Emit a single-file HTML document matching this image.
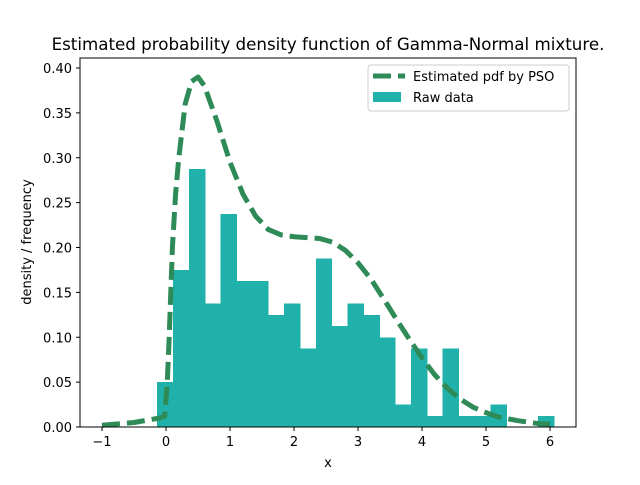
<!DOCTYPE html>
<html><head><meta charset="utf-8"><style>
body{margin:0;background:#fff;}
svg text{font-family:"DejaVu Sans","Liberation Sans",sans-serif;fill:#000;}
</style></head><body>
<svg id="chart" width="640" height="480" xmlns="http://www.w3.org/2000/svg">
<text x="328" y="50" font-size="16.7" text-anchor="middle">Estimated probability density function of Gamma-Normal mixture.</text>
<g id="bars" shape-rendering="crispEdges"></g>
<g id="curve"></g>
<rect x="80" y="58" width="496" height="369" fill="none" stroke="#000" stroke-width="1"/>
<g id="xticks"></g><g id="yticks"></g>
<text x="328" y="467" font-size="13" text-anchor="middle">x</text>
<text transform="translate(31,242) rotate(-90)" font-size="13" text-anchor="middle">density / frequency</text>
<g>
<rect x="368" y="65" width="201" height="46" rx="3" fill="#fff" fill-opacity="0.8" stroke="#ccc"/>
<line x1="373" y1="76" x2="405" y2="76" stroke="#2e8b57" stroke-width="5" stroke-dasharray="18,7"/>
<text x="413" y="81" font-size="13">Estimated pdf by PSO</text>
<rect x="373" y="92" width="28" height="10" fill="#20b2aa"/>
<text x="413" y="102" font-size="13">Raw data</text>
</g>
</svg>
<script>
const binStart = -0.14;
const binWidth = 0.248;
const binHeights = [0.05,0.175,0.2875,0.1375,0.2375,0.1625,0.1625,0.125,0.1375,0.0875,0.1875,0.1125,0.1375,0.125,0.1,0.025,0.0875,0.0125,0.0875,0.0125,0.0125,0.025,0,0,0.0125];
const pdfX = [-1,-0.5,-0.1,-0.02,0.02,0.05,0.1,0.15,0.2,0.3,0.4,0.5,0.6,0.8,1.0,1.2,1.4,1.6,1.8,2.0,2.2,2.4,2.6,2.8,3.0,3.2,3.4,3.6,3.8,4.0,4.2,4.4,4.6,4.8,5.0,5.2,5.5,5.8,6.0];
const pdfY = [0.002,0.005,0.01,0.012,0.05,0.1,0.2,0.26,0.3,0.36,0.385,0.39,0.38,0.34,0.295,0.26,0.235,0.22,0.214,0.212,0.211,0.21,0.206,0.197,0.183,0.165,0.143,0.12,0.098,0.077,0.058,0.043,0.031,0.022,0.016,0.011,0.007,0.004,0.003];
const xTicks = [-1,0,1,2,3,4,5,6];
const yTicks = [0,0.05,0.1,0.15,0.2,0.25,0.3,0.35,0.4];
const NS="http://www.w3.org/2000/svg";
const sx = v => 166 + v*64;
const sy = v => 427 - v*897.5;
const bars=document.getElementById('bars');
binHeights.forEach((h,i)=>{
  if(h<=0) return;
  const r=document.createElementNS(NS,'rect');
  const x0=sx(binStart+i*binWidth), x1=sx(binStart+(i+1)*binWidth);
  r.setAttribute('x',x0);r.setAttribute('width',x1-x0+0.6);
  r.setAttribute('y',sy(h));r.setAttribute('height',sy(0)-sy(h));
  r.setAttribute('fill','#20b2aa');
  
  
  bars.appendChild(r);
});
const p=document.createElementNS(NS,'path');
p.setAttribute('d',pdfX.map((x,i)=>(i?'L':'M')+sx(x).toFixed(1)+','+sy(pdfY[i]).toFixed(1)).join(' '));
p.setAttribute('fill','none');p.setAttribute('stroke','#2e8b57');p.setAttribute('stroke-width','5');
p.setAttribute('stroke-dasharray','18,7');p.setAttribute('stroke-linejoin','round');


document.getElementById('curve').appendChild(p);
const xt=document.getElementById('xticks');
xTicks.forEach(v=>{
  const l=document.createElementNS(NS,'line');
  l.setAttribute('x1',sx(v));l.setAttribute('x2',sx(v));l.setAttribute('y1',427);l.setAttribute('y2',431);l.setAttribute('stroke','#000');
  
  
  xt.appendChild(l);
  const t=document.createElementNS(NS,'text');
  t.setAttribute('x',sx(v));t.setAttribute('y',446);t.setAttribute('font-size','13');t.setAttribute('text-anchor','middle');
  t.textContent = v<0 ? '\u2212'+Math.abs(v) : String(v);
  
  
  xt.appendChild(t);
});
const yt=document.getElementById('yticks');
yTicks.forEach(v=>{
  const l=document.createElementNS(NS,'line');
  l.setAttribute('x1',76);l.setAttribute('x2',80);l.setAttribute('y1',sy(v));l.setAttribute('y2',sy(v));l.setAttribute('stroke','#000');
  
  
  yt.appendChild(l);
  const t=document.createElementNS(NS,'text');
  t.setAttribute('x',72);t.setAttribute('y',sy(v)+5);t.setAttribute('font-size','13');t.setAttribute('text-anchor','end');
  t.textContent=v.toFixed(2);
  
  
  yt.appendChild(t);
});
</script>
</body></html>
